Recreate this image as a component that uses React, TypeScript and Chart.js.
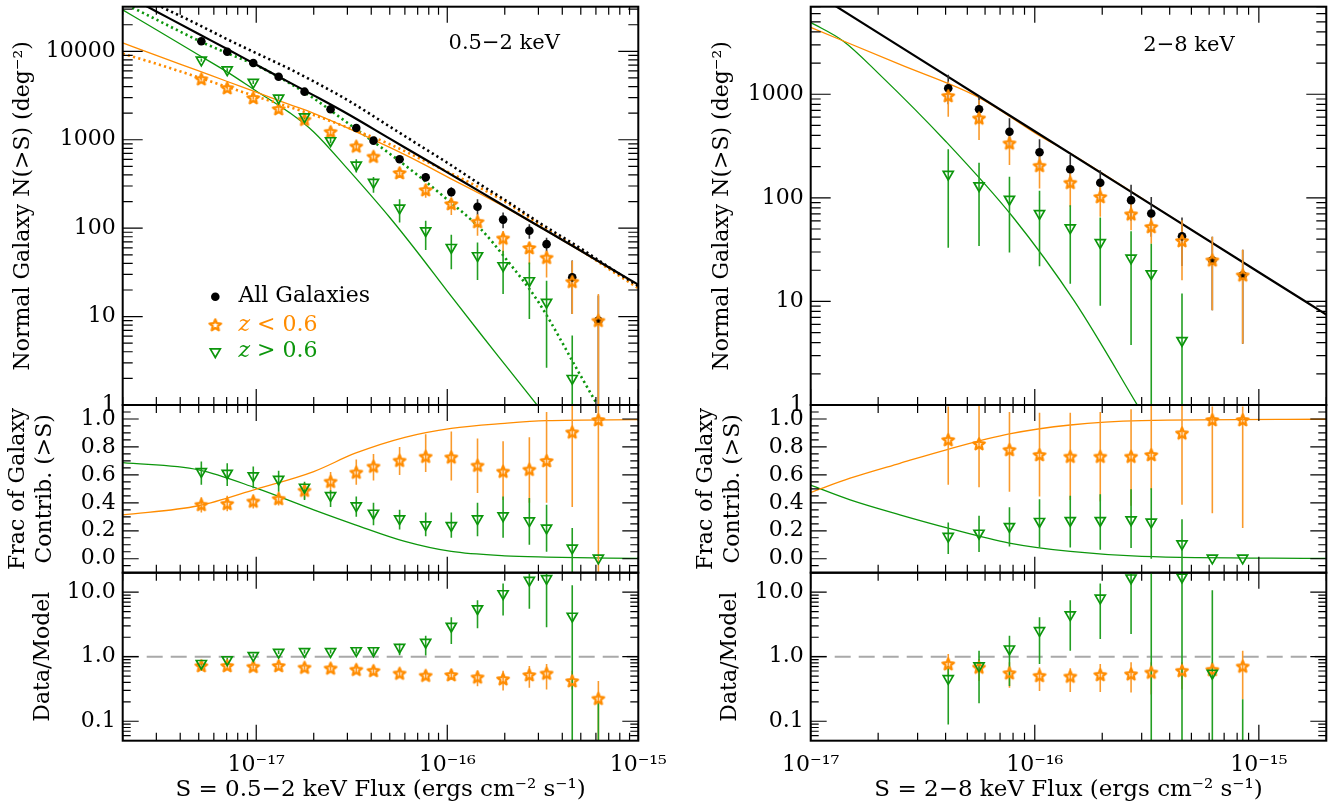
import { useEffect, useRef } from "react";
import { Chart, registerables } from "chart.js";

Chart.register(...registerables);

// ---------- 0.5-2 keV band ----------
const SOFT_RANGE = [2e-18, 1e-15];
const SOFT_X = [5.16e-18, 7.05e-18, 9.65e-18, 1.31e-17, 1.79e-17, 2.45e-17, 3.34e-17, 4.11e-17, 5.63e-17, 7.71e-17, 1.05e-16, 1.44e-16, 1.96e-16, 2.69e-16, 3.31e-16, 4.51e-16, 6.18e-16];

const SOFT_ALL = [13000, 9900, 7380, 5170, 3500, 2210, 1360, 977, 601, 376, 256, 175, 125, 93.6, 66, 27.8, 9.0];
const SOFT_ALL_LO = [12500, 9500, 7050, 4900, 3300, 2070, 1260, 900, 550, 340, 228, 140, 100, 76, 54, 10.7, 0.3];
const SOFT_ALL_HI = [13500, 10300, 7700, 5450, 3700, 2350, 1460, 1060, 655, 420, 290, 212, 150, 111, 78, 43, 17.3];
const SOFT_ZLOW = [4860, 3850, 2970, 2230, 1690, 1230, 843, 645, 421, 270, 188, 118, 76.7, 59.7, 46.4, 24.8, 9.0];
const SOFT_ZLOW_LO = [4650, 3680, 2830, 2110, 1590, 1140, 770, 585, 370, 221, 141, 82, 51, 39, 27.7, 10.7, 0.3];
const SOFT_ZLOW_HI = [5080, 4030, 3120, 2360, 1800, 1330, 920, 710, 480, 314, 221, 144, 93, 69, 55.5, 42.8, 18];
const SOFT_ZHIGH = [7980, 6190, 4460, 2970, 1820, 977, 518, 330, 169, 93.6, 60.6, 48.9, 37.7, 25.5, 14.5, 2.0, null];
const SOFT_ZHIGH_LO = [7650, 5930, 4260, 2830, 1720, 915, 425, 252, 116, 56.5, 34.4, 25.9, 18, 9.4, 2.63, 0.3, null];
const SOFT_ZHIGH_HI = [8320, 6460, 4670, 3120, 1930, 1045, 601, 380, 212, 121, 84, 69, 55.5, 41, 25.4, 6.1, null];

const SOFT_MODEL_X = [2e-18, 3e-18, 5e-18, 7e-18, 1e-17, 1.5e-17, 2e-17, 3e-17, 5e-17, 7e-17, 1e-16, 1.5e-16, 2e-16, 3e-16, 5e-16, 7e-16, 1e-15];
const SOFT_MODEL_ALL = [45200, 28300, 15700, 10700, 7060, 4430, 3180, 1970, 1030, 673, 428, 256, 177, 106, 55.5, 36.1, 23.0];
const SOFT_MODEL_ALL_ALT = [52500, 33900, 19950, 13800, 9550, 6310, 4570, 2820, 1410, 891, 550, 309, 209, 117, 58.9, 36.3, 22.1];
const SOFT_MODEL_ZLOW = [12450, 9020, 6000, 4590, 3450, 2500, 1990, 1365, 819, 573, 381, 242, 173, 105, 55, 35.5, 22.6];
const SOFT_MODEL_ZLOW_ALT = [9440, 7240, 5070, 3980, 3090, 2340, 1905, 1380, 891, 631, 437, 282, 200, 112, 56.2, 34.7, 20.9];
const SOFT_MODEL_ZHIGH = [29500, 17540, 9100, 5900, 3565, 2014, 1227, 471, 132, 53.1, 19.4, 6.31, 2.88, 0.957, 0.24, 0.095, 0.036];
const SOFT_MODEL_ZHIGH_ALT = [35500, 22900, 13200, 9590, 6970, 4340, 2940, 1556, 695, 398, 211, 97.5, 46.7, 14.6, 2.13, 0.6, 0.16];

const SOFT_FRAC_MODEL_X = [2e-18, 5e-18, 1e-17, 2e-17, 3.3e-17, 6e-17, 1.05e-16, 2e-16, 3.3e-16, 1e-15];
const SOFT_FRAC_MODEL_ZLOW = [0.314, 0.379, 0.498, 0.624, 0.755, 0.869, 0.933, 0.969, 0.988, 0.995];
const SOFT_FRAC_MODEL_ZHIGH = [0.688, 0.636, 0.505, 0.35, 0.243, 0.124, 0.052, 0.021, 0.012, 0.002];
const SOFT_FRAC_ZLOW = [0.386, 0.393, 0.41, 0.429, 0.488, 0.552, 0.617, 0.66, 0.702, 0.731, 0.726, 0.667, 0.624, 0.638, 0.7, 0.905, 0.993];
const SOFT_FRAC_ZLOW_LO = [0.33, 0.34, 0.36, 0.38, 0.43, 0.48, 0.53, 0.56, 0.6, 0.62, 0.56, 0.47, 0.42, 0.4, 0.4, 0.37, -0.2];
const SOFT_FRAC_ZLOW_HI = [0.44, 0.45, 0.46, 0.48, 0.54, 0.62, 0.71, 0.75, 0.8, 0.89, 0.91, 0.86, 0.84, 0.87, 1.05, 1.2, 1.2];
const SOFT_FRAC_ZHIGH = [0.624, 0.612, 0.593, 0.569, 0.512, 0.452, 0.379, 0.326, 0.286, 0.243, 0.238, 0.286, 0.307, 0.271, 0.219, 0.076, 0.005];
const SOFT_FRAC_ZHIGH_LO = [0.53, 0.52, 0.505, 0.48, 0.42, 0.37, 0.3, 0.24, 0.21, 0.16, 0.15, 0.16, 0.15, 0.1, 0.05, -0.15, null];
const SOFT_FRAC_ZHIGH_HI = [0.695, 0.683, 0.66, 0.63, 0.55, 0.49, 0.445, 0.4, 0.35, 0.33, 0.33, 0.4, 0.445, 0.435, 0.386, 0.22, null];

const SOFT_RATIO_ZLOW = [0.72, 0.72, 0.7, 0.72, 0.68, 0.66, 0.63, 0.605, 0.55, 0.51, 0.52, 0.48, 0.45, 0.52, 0.55, 0.42, 0.224];
const SOFT_RATIO_ZLOW_LO = [0.67, 0.67, 0.65, 0.67, 0.63, 0.61, 0.58, 0.55, 0.49, 0.45, 0.44, 0.35, 0.3, 0.33, 0.31, 0.31, 0.03];
const SOFT_RATIO_ZLOW_HI = [0.77, 0.77, 0.75, 0.77, 0.73, 0.71, 0.68, 0.66, 0.61, 0.58, 0.6, 0.61, 0.605, 0.72, 0.77, 0.605, 0.42];
const SOFT_RATIO_ZHIGH = [0.787, 0.9, 1.04, 1.17, 1.2, 1.2, 1.24, 1.24, 1.4, 1.67, 2.97, 5.54, 9.48, 15.3, 16.2, 4.25, null];
const SOFT_RATIO_ZHIGH_LO = [0.74, 0.85, 0.98, 1.1, 1.12, 1.12, 1.12, 1.08, 1.05, 1.04, 1.57, 2.77, 4.35, 5.53, 2.87, 0.01, 0.01];
const SOFT_RATIO_ZHIGH_HI = [0.84, 0.96, 1.11, 1.25, 1.28, 1.28, 1.35, 1.38, 1.58, 2.12, 4.1, 7.46, 13.6, 30, 30, 12.8, 0.206];

// ---------- 2-8 keV band ----------
const HARD_RANGE = [1e-17, 2e-15];
const HARD_X = [4.11e-17, 5.64e-17, 7.71e-17, 1.05e-16, 1.44e-16, 1.96e-16, 2.69e-16, 3.31e-16, 4.54e-16, 6.2e-16, 8.47e-16];

const HARD_ALL = [1143, 716, 435, 275, 189, 140, 95, 70.5, 42.5, 25, 17.9];
const HARD_ALL_LO = [800, 520, 300, 190, 125, 95, 60, 42, 22, 8.2, 3.9];
const HARD_ALL_HI = [1540, 949, 587, 367, 259, 185, 134, 102, 64.6, 42, 31.6];
const HARD_ZLOW = [963, 586, 336, 204, 140, 102, 69.5, 52.4, 38.4, 25, 17.9];
const HARD_ZLOW_LO = [608, 362, 207, 123, 82, 65.5, 48.6, 36, 16, 8.2, 3.9];
const HARD_ZLOW_HI = [1327, 881, 469, 289, 200, 148, 98.6, 76, 60.8, 42, 31.6];
const HARD_ZHIGH = [169, 131, 97, 70.5, 51.3, 37, 26.2, 18.5, 4.2, null, null];
const HARD_ZHIGH_LO = [33, 34.3, 29.6, 21.8, 14.8, 9.1, 3.8, 0.3, 0.3, null, null];
const HARD_ZHIGH_HI = [294, 218, 160, 117, 85, 64.6, 47.5, 36, 11.9, null, null];

const HARD_MODEL_ALL_X = [1e-17, 1e-16, 1e-15, 2e-15];
const HARD_MODEL_ALL = [10050, 439, 19.1, 7.46];
const HARD_MODEL_ZLOW_X = [1e-17, 2.5e-17, 5.64e-17, 1.05e-16, 1.44e-16, 3.16e-16, 1e-15, 2e-15];
const HARD_MODEL_ZLOW = [4416, 1941, 929, 398, 269, 92.3, 19.1, 7.46];
const HARD_MODEL_ZHIGH_X = [1e-17, 1.4e-17, 2e-17, 4e-17, 8e-17, 1.5e-16, 3e-16, 5e-16];
const HARD_MODEL_ZHIGH = [4943, 3251, 1600, 352, 64.9, 10.1, 0.85, 0.135];

const HARD_FRAC_MODEL_X = [1e-17, 1.5e-17, 2.5e-17, 4.1e-17, 7.7e-17, 1.44e-16, 3e-16, 2e-15];
const HARD_FRAC_MODEL_ZLOW = [0.474, 0.576, 0.683, 0.783, 0.893, 0.957, 0.988, 0.998];
const HARD_FRAC_MODEL_ZHIGH = [0.526, 0.421, 0.314, 0.219, 0.112, 0.052, 0.017, 0.002];
const HARD_FRAC_ZLOW = [0.85, 0.821, 0.779, 0.743, 0.731, 0.731, 0.731, 0.743, 0.898, 0.993, 0.993];
const HARD_FRAC_ZLOW_LO = [0.529, 0.512, 0.48, 0.445, 0.421, 0.41, 0.379, 0.493, 0.386, 0.326, 0.219];
const HARD_FRAC_ZLOW_HI = [1.09, 1.1, 1.05, 1.045, 1.045, 1.05, 1.07, 1.2, 1.2, 1.09, 1.09];
const HARD_FRAC_ZHIGH = [0.16, 0.183, 0.231, 0.267, 0.274, 0.274, 0.279, 0.262, 0.107, 0.005, 0.005];
const HARD_FRAC_ZHIGH_LO = [0.033, 0.048, 0.088, 0.081, 0.081, 0.064, 0.076, 0.0, -0.15, null, null];
const HARD_FRAC_ZHIGH_HI = [0.26, 0.307, 0.369, 0.426, 0.45, 0.462, 0.498, 0.505, 0.283, null, null];

const HARD_RATIO_ZLOW = [0.769, 0.682, 0.556, 0.506, 0.494, 0.524, 0.537, 0.57, 0.605, 0.627, 0.707];
const HARD_RATIO_ZLOW_LO = [0.506, 0.42, 0.33, 0.295, 0.285, 0.285, 0.28, 0.26, 0.31, 0.45, 0.22];
const HARD_RATIO_ZLOW_HI = [1.1, 0.92, 0.82, 0.68, 0.66, 0.77, 0.82, 0.82, 0.82, 0.82, 1.24];
const HARD_RATIO_ZHIGH = [0.459, 0.724, 1.32, 2.54, 4.46, 8.11, 16.6, null, 17.2, 0.556, null];
const HARD_RATIO_ZHIGH_LO = [0.089, 0.19, 0.353, 0.77, 1.24, 1.88, 2.25, 0.01, 0.01, 0.01, 0.01];
const HARD_RATIO_ZHIGH_HI = [0.72, 1.24, 2.12, 4.1, 7.46, 13.6, 30, 30, 30, 10.7, 0.219];

const RATIO_ONE = [1, 1];

// ---------- ticks ----------
const X_MAJOR = [1e-17, 1e-16, 1e-15];
const X_LABELS = ["10⁻¹⁷", "10⁻¹⁶", "10⁻¹⁵"];
const mults = (decades: number[]) => decades.flatMap((d) => [2, 3, 4, 5, 6, 7, 8, 9].map((k) => k * d));
const SOFT_X_MINOR = mults([1e-18, 1e-17, 1e-16]);
const HARD_X_MINOR = [...mults([1e-17, 1e-16]), 2e-15];

const SOFT_N_MAJOR = [1, 10, 100, 1000, 10000];
const SOFT_N_LABELS = ["1", "10", "100", "1000", "10000"];
const SOFT_N_MINOR = [...mults([1, 10, 100, 1000]), 20000, 30000];
const HARD_N_MAJOR = [1, 10, 100, 1000];
const HARD_N_LABELS = ["1", "10", "100", "1000"];
const HARD_N_MINOR = [...mults([1, 10, 100]), 2000, 3000, 4000, 5000, 6000, 7000];

const FRAC_MAJOR = [0, 0.2, 0.4, 0.6, 0.8, 1.0];
const FRAC_LABELS = ["0.0", "0.2", "0.4", "0.6", "0.8", "1.0"];
const FRAC_MINOR = [-0.1, -0.05, 0.05, 0.1, 0.15, 0.25, 0.3, 0.35, 0.45, 0.5, 0.55, 0.65, 0.7, 0.75, 0.85, 0.9, 0.95, 1.05, 1.1];

const RATIO_MAJOR = [0.1, 1, 10];
const RATIO_LABELS = ["0.1", "1.0", "10.0"];
const RATIO_MINOR = [0.05, 0.06, 0.07, 0.08, 0.09, ...mults([0.1, 1]), 20];

// ---------- style ----------
const FONT = "'DejaVu Serif', serif";
const ORANGE = "#ff8c00";
const ORANGE_BAR = "#f99a2c";
const GREEN = "#0c960c";
const GREEN_BAR = "#239f23";

let starImg: HTMLCanvasElement | null = null;
function getStar() {
  if (starImg) return starImg;
  const c = document.createElement("canvas");
  c.width = 16;
  c.height = 16;
  const g = c.getContext("2d")!;
  g.beginPath();
  for (let i = 0; i < 10; i++) {
    const r = i % 2 === 0 ? 6.0 : 2.7;
    const a = -Math.PI / 2 + (i * Math.PI) / 5;
    const px = 8 + r * Math.cos(a);
    const py = 8.4 + r * Math.sin(a);
    if (i === 0) g.moveTo(px, py);
    else g.lineTo(px, py);
  }
  g.closePath();
  g.lineJoin = "round";
  g.lineWidth = 2.3;
  g.strokeStyle = ORANGE;
  g.stroke();
  starImg = c;
  return c;
}

const xy = (xs: number[], ys: (number | null)[]) => xs.map((x, i) => ({ x, y: ys[i] }));
const bars = (xs: number[], lo: (number | null)[], hi: (number | null)[]) =>
  xs.flatMap((x, i) => (lo[i] == null ? [] : [{ x, y: lo[i] }, { x, y: hi[i] }, { x, y: null }]));

const curve = (xs: number[], ys: number[], color: string, width: number, dotted = false) => ({
  data: xy(xs, ys),
  borderColor: color,
  borderWidth: width,
  borderDash: dotted ? [2.2, 3.2] : [],
  cubicInterpolationMode: "monotone",
  pointRadius: 0,
  fill: false,
  order: 30,
});
const errs = (xs: number[], lo: any[], hi: any[], color: string, order: number) => ({
  data: bars(xs, lo, hi),
  borderColor: color,
  borderWidth: 1.6,
  pointRadius: 0,
  spanGaps: false,
  order,
});
const dots = (xs: number[], ys: any[]) => ({
  data: xy(xs, ys),
  showLine: false,
  pointStyle: "circle",
  pointRadius: 4.3,
  pointBackgroundColor: "#000",
  pointBorderWidth: 0,
  order: 12,
});
const stars = (xs: number[], ys: any[]) => ({
  data: xy(xs, ys),
  showLine: false,
  pointStyle: getStar(),
  pointRadius: 6,
  order: 11,
});
const tris = (xs: number[], ys: any[]) => ({
  data: xy(xs, ys),
  showLine: false,
  pointStyle: "triangle",
  pointRotation: 180,
  pointRadius: 5.8,
  pointBackgroundColor: "rgba(0,0,0,0)",
  pointBorderColor: GREEN,
  pointBorderWidth: 1.7,
  order: 10,
});
const refLine = (range: number[]) => ({
  data: xy(range, RATIO_ONE),
  borderColor: "#a9a9a9",
  borderWidth: 2,
  borderDash: [16, 8],
  pointRadius: 0,
  order: 40,
});

interface PanelSpec {
  key: string;
  left: number;
  top: number;
  w: number;
  h: number;
  pad: { top: number; right: number; bottom: number };
  yAxisW: number;
  xAxisH?: number;
  xRange: number[];
  xMinor: number[];
  xTitle?: string;
  yType: "logarithmic" | "linear";
  yMin: number;
  yMax: number;
  yMajor: number[];
  yLabels: string[];
  yMinor: number[];
  yLen: number;
  yTitle: string | string[];
  yTitlePad: number;
  yTitleLH?: number;
  texts?: any[];
  datasets: () => any[];
}

// inward tick marks on all four sides, drawn as short line segments through the panel's scales
function frameTicks(s: PanelSpec) {
  const [x0, x1] = s.xRange;
  const plotW = s.w - s.yAxisW - s.pad.right;
  const plotH = s.h - s.pad.top - s.pad.bottom - (s.xAxisH || 0);
  const ylog = s.yType === "logarithmic";
  const xPerPx = Math.log10(x1 / x0) / plotW;
  const yPerPx = ylog ? Math.log10(s.yMax / s.yMin) / plotH : (s.yMax - s.yMin) / plotH;
  const yStep = (y: number, px: number) => (ylog ? y * Math.pow(10, px * yPerPx) : y + px * yPerPx);
  const xStep = (x: number, px: number) => x * Math.pow(10, px * xPerPx);
  const pts: any[] = [];
  const seg = (ax: number, ay: number, bx: number, by: number) => {
    pts.push({ x: ax, y: ay }, { x: bx, y: by }, { x: ax, y: null });
  };
  const xTicks = (vals: number[], len: number) =>
    vals.forEach((v) => {
      seg(v, s.yMin, v, yStep(s.yMin, len));
      seg(v, s.yMax, v, yStep(s.yMax, -len));
    });
  const yTicks = (vals: number[], len: number) =>
    vals.forEach((v) => {
      seg(x0, v, xStep(x0, len), v);
      seg(x1, v, xStep(x1, -len), v);
    });
  xTicks(X_MAJOR, 16);
  xTicks(s.xMinor, 8);
  yTicks(s.yMajor, s.yLen);
  yTicks(s.yMinor, s.yLen / 2);
  return {
    data: pts,
    borderColor: "#000",
    borderWidth: 1.2,
    pointRadius: 0,
    spanGaps: false,
    order: 0,
  };
}

// frame around the plot area
const framePlugin = {
  id: "frameBox",
  afterDraw(chart: any) {
    const ctx = chart.ctx;
    const a = chart.chartArea;
    ctx.save();
    ctx.strokeStyle = "#000";
    ctx.lineWidth = 2;
    ctx.strokeRect(a.left, a.top, a.right - a.left, a.bottom - a.top);
    ctx.restore();
  },
};

// in-panel labels and legend
function textPlugin(s: PanelSpec) {
  return {
    id: "panelText",
    afterDraw(chart: any) {
      const { ctx, chartArea: a } = chart;
      ctx.save();
      (s.texts || []).forEach((it: any) => {
        const x = a.left + it.dx;
        const y = a.top + it.dy;
        if (it.kind === "dot") {
          ctx.fillStyle = "#000";
          ctx.beginPath();
          ctx.arc(x, y, 4.3, 0, Math.PI * 2);
          ctx.fill();
        } else if (it.kind === "star") {
          const img = getStar();
          ctx.drawImage(img, x - img.width / 2, y - img.height / 2);
        } else if (it.kind === "tri") {
          const r = 5.8;
          ctx.strokeStyle = GREEN;
          ctx.lineWidth = 1.7;
          ctx.beginPath();
          ctx.moveTo(x, y + r);
          ctx.lineTo(x - r * 0.866, y - r / 2);
          ctx.lineTo(x + r * 0.866, y - r / 2);
          ctx.closePath();
          ctx.stroke();
        } else {
          const size = it.size || 21;
          ctx.fillStyle = it.color || "#000";
          ctx.textBaseline = "middle";
          ctx.textAlign = it.align || "left";
          let cx = x;
          if (it.italic) {
            ctx.font = `italic ${size}px ${FONT}`;
            ctx.fillText(it.italic, cx, y);
            cx += ctx.measureText(it.italic).width;
          }
          ctx.font = `${size}px ${FONT}`;
          ctx.fillText(it.text, cx, y);
        }
      });
      ctx.restore();
    },
  };
}

function buildConfig(s: PanelSpec): any {
  const tickFont = { family: FONT, size: 22 };
  const [x0, x1] = s.xRange;
  return {
    type: "line",
    data: { datasets: [...s.datasets(), frameTicks(s)] },
    plugins: [framePlugin, textPlugin(s)],
    options: {
      animation: false,
      responsive: false,
      layout: { autoPadding: false, padding: { left: 0, top: s.pad.top, right: s.pad.right, bottom: s.pad.bottom } },
      plugins: { legend: { display: false }, tooltip: { enabled: false } },
      scales: {
        x: {
          type: "logarithmic",
          position: "bottom",
          min: x0,
          max: x1,
          display: !!s.xTitle,
          afterBuildTicks: (sc: any) => {
            sc.ticks = X_MAJOR.map((v) => ({ value: v }));
          },
          afterFit: (sc: any) => {
            sc.height = s.xAxisH || 0;
            sc.paddingLeft = 0;
            sc.paddingRight = 0;
          },
          grid: { display: false, drawTicks: false },
          border: { display: false },
          ticks: {
            autoSkip: false,
            maxRotation: 0,
            minRotation: 0,
            padding: 11,
            color: "#000",
            font: tickFont,
            callback: (_v: any, i: number) => X_LABELS[i],
          },
          title: {
            display: !!s.xTitle,
            text: s.xTitle,
            color: "#000",
            font: { family: FONT, size: 23 },
            padding: { top: 0, bottom: 4 },
          },
        },
        y: {
          type: s.yType,
          position: "left",
          min: s.yMin,
          max: s.yMax,
          afterBuildTicks: (sc: any) => {
            sc.ticks = s.yMajor.map((v) => ({ value: v }));
          },
          afterFit: (sc: any) => {
            sc.width = s.yAxisW;
            sc.paddingTop = 0;
            sc.paddingBottom = 0;
          },
          grid: { display: false, drawTicks: false },
          border: { display: false },
          ticks: {
            autoSkip: false,
            padding: 7,
            color: "#000",
            font: tickFont,
            callback: (_v: any, i: number) => s.yLabels[i],
          },
          title: {
            display: true,
            text: s.yTitle,
            color: "#000",
            font: { family: FONT, size: 22, lineHeight: s.yTitleLH || 1.2 },
            padding: { top: s.yTitlePad, bottom: 0 },
          },
        },
      },
    },
  };
}

const N_TITLE = "Normal Galaxy N(>S) (deg⁻²)";
const FRAC_TITLE = ["Frac of Galaxy", "Contrib. (>S)"];
const RATIO_TITLE = "Data/Model";

const LEFT = { left: 0, w: 680, yAxisW: 122.7, right: 41.7 };
const RIGHT = { left: 680, w: 662, yAxisW: 130.7, right: 15.7 };

const PANELS: PanelSpec[] = [
  {
    key: "soft-n",
    left: LEFT.left, top: 0, w: LEFT.w, h: 420,
    pad: { top: 6.7, right: LEFT.right, bottom: 15 },
    yAxisW: LEFT.yAxisW,
    xRange: SOFT_RANGE, xMinor: SOFT_X_MINOR,
    yType: "logarithmic", yMin: 1, yMax: 32000,
    yMajor: SOFT_N_MAJOR, yLabels: SOFT_N_LABELS, yMinor: SOFT_N_MINOR, yLen: 20,
    yTitle: N_TITLE, yTitlePad: 9.8,
    texts: [
      { kind: "text", text: "0.5−2 keV", dx: 381.5, dy: 37, align: "center", size: 21 },
      { kind: "dot", dx: 92.6, dy: 290 },
      { kind: "text", text: "All Galaxies", dx: 115.7, dy: 290, size: 22 },
      { kind: "star", dx: 92.6, dy: 318.3 },
      { kind: "text", italic: "z", text: " < 0.6", dx: 115.7, dy: 318.3, size: 22, color: ORANGE },
      { kind: "tri", dx: 92.6, dy: 345 },
      { kind: "text", italic: "z", text: " > 0.6", dx: 115.7, dy: 345, size: 22, color: GREEN },
    ],
    datasets: () => [
      curve(SOFT_MODEL_X, SOFT_MODEL_ALL, "#000", 2.2),
      curve(SOFT_MODEL_X, SOFT_MODEL_ALL_ALT, "#000", 2.6, true),
      curve(SOFT_MODEL_X, SOFT_MODEL_ZLOW, ORANGE, 1.3),
      curve(SOFT_MODEL_X, SOFT_MODEL_ZLOW_ALT, ORANGE, 2.6, true),
      curve(SOFT_MODEL_X, SOFT_MODEL_ZHIGH, GREEN, 1.3),
      curve(SOFT_MODEL_X, SOFT_MODEL_ZHIGH_ALT, GREEN, 2.6, true),
      errs(SOFT_X, SOFT_ALL_LO, SOFT_ALL_HI, "#333", 22),
      errs(SOFT_X, SOFT_ZLOW_LO, SOFT_ZLOW_HI, ORANGE_BAR, 21),
      errs(SOFT_X, SOFT_ZHIGH_LO, SOFT_ZHIGH_HI, GREEN_BAR, 20),
      dots(SOFT_X, SOFT_ALL),
      stars(SOFT_X, SOFT_ZLOW),
      tris(SOFT_X, SOFT_ZHIGH),
    ],
  },
  {
    key: "soft-frac",
    left: LEFT.left, top: 395, w: LEFT.w, h: 190,
    pad: { top: 10, right: LEFT.right, bottom: 12.3 },
    yAxisW: LEFT.yAxisW,
    xRange: SOFT_RANGE, xMinor: SOFT_X_MINOR,
    yType: "linear", yMin: -0.1, yMax: 1.1,
    yMajor: FRAC_MAJOR, yLabels: FRAC_LABELS, yMinor: FRAC_MINOR, yLen: 16,
    yTitle: FRAC_TITLE, yTitlePad: 4.5, yTitleLH: 1.23,
    datasets: () => [
      curve(SOFT_FRAC_MODEL_X, SOFT_FRAC_MODEL_ZLOW, ORANGE, 1.3),
      curve(SOFT_FRAC_MODEL_X, SOFT_FRAC_MODEL_ZHIGH, GREEN, 1.3),
      errs(SOFT_X, SOFT_FRAC_ZLOW_LO, SOFT_FRAC_ZLOW_HI, ORANGE_BAR, 21),
      errs(SOFT_X, SOFT_FRAC_ZHIGH_LO, SOFT_FRAC_ZHIGH_HI, GREEN_BAR, 20),
      stars(SOFT_X, SOFT_FRAC_ZLOW),
      tris(SOFT_X, SOFT_FRAC_ZHIGH),
    ],
  },
  {
    key: "soft-ratio",
    left: LEFT.left, top: 562, w: LEFT.w, h: 246,
    pad: { top: 10.7, right: LEFT.right, bottom: 0 },
    yAxisW: LEFT.yAxisW, xAxisH: 67.3,
    xRange: SOFT_RANGE, xMinor: SOFT_X_MINOR,
    xTitle: "S = 0.5−2 keV Flux (ergs cm⁻² s⁻¹)",
    yType: "logarithmic", yMin: 0.05, yMax: 20,
    yMajor: RATIO_MAJOR, yLabels: RATIO_LABELS, yMinor: RATIO_MINOR, yLen: 16,
    yTitle: RATIO_TITLE, yTitlePad: 29.8,
    datasets: () => [
      refLine(SOFT_RANGE),
      errs(SOFT_X, SOFT_RATIO_ZLOW_LO, SOFT_RATIO_ZLOW_HI, ORANGE_BAR, 21),
      errs(SOFT_X, SOFT_RATIO_ZHIGH_LO, SOFT_RATIO_ZHIGH_HI, GREEN_BAR, 20),
      stars(SOFT_X, SOFT_RATIO_ZLOW),
      tris(SOFT_X, SOFT_RATIO_ZHIGH),
    ],
  },
  {
    key: "hard-n",
    left: RIGHT.left, top: 0, w: RIGHT.w, h: 420,
    pad: { top: 6.7, right: RIGHT.right, bottom: 15 },
    yAxisW: RIGHT.yAxisW,
    xRange: HARD_RANGE, xMinor: HARD_X_MINOR,
    yType: "logarithmic", yMin: 1, yMax: 7000,
    yMajor: HARD_N_MAJOR, yLabels: HARD_N_LABELS, yMinor: HARD_N_MINOR, yLen: 20,
    yTitle: N_TITLE, yTitlePad: 28.8,
    texts: [{ kind: "text", text: "2−8 keV", dx: 378.3, dy: 39, align: "center", size: 21 }],
    datasets: () => [
      curve(HARD_MODEL_ALL_X, HARD_MODEL_ALL, "#000", 2.2),
      curve(HARD_MODEL_ZLOW_X, HARD_MODEL_ZLOW, ORANGE, 1.3),
      curve(HARD_MODEL_ZHIGH_X, HARD_MODEL_ZHIGH, GREEN, 1.3),
      errs(HARD_X, HARD_ALL_LO, HARD_ALL_HI, "#333", 22),
      errs(HARD_X, HARD_ZLOW_LO, HARD_ZLOW_HI, ORANGE_BAR, 21),
      errs(HARD_X, HARD_ZHIGH_LO, HARD_ZHIGH_HI, GREEN_BAR, 20),
      dots(HARD_X, HARD_ALL),
      stars(HARD_X, HARD_ZLOW),
      tris(HARD_X, HARD_ZHIGH),
    ],
  },
  {
    key: "hard-frac",
    left: RIGHT.left, top: 395, w: RIGHT.w, h: 190,
    pad: { top: 10, right: RIGHT.right, bottom: 12.3 },
    yAxisW: RIGHT.yAxisW,
    xRange: HARD_RANGE, xMinor: HARD_X_MINOR,
    yType: "linear", yMin: -0.1, yMax: 1.1,
    yMajor: FRAC_MAJOR, yLabels: FRAC_LABELS, yMinor: FRAC_MINOR, yLen: 16,
    yTitle: FRAC_TITLE, yTitlePad: 12.5, yTitleLH: 1.23,
    datasets: () => [
      curve(HARD_FRAC_MODEL_X, HARD_FRAC_MODEL_ZLOW, ORANGE, 1.3),
      curve(HARD_FRAC_MODEL_X, HARD_FRAC_MODEL_ZHIGH, GREEN, 1.3),
      errs(HARD_X, HARD_FRAC_ZLOW_LO, HARD_FRAC_ZLOW_HI, ORANGE_BAR, 21),
      errs(HARD_X, HARD_FRAC_ZHIGH_LO, HARD_FRAC_ZHIGH_HI, GREEN_BAR, 20),
      stars(HARD_X, HARD_FRAC_ZLOW),
      tris(HARD_X, HARD_FRAC_ZHIGH),
    ],
  },
  {
    key: "hard-ratio",
    left: RIGHT.left, top: 562, w: RIGHT.w, h: 246,
    pad: { top: 10.7, right: RIGHT.right, bottom: 0 },
    yAxisW: RIGHT.yAxisW, xAxisH: 67.3,
    xRange: HARD_RANGE, xMinor: HARD_X_MINOR,
    xTitle: "S = 2−8 keV Flux (ergs cm⁻² s⁻¹)",
    yType: "logarithmic", yMin: 0.05, yMax: 20,
    yMajor: RATIO_MAJOR, yLabels: RATIO_LABELS, yMinor: RATIO_MINOR, yLen: 16,
    yTitle: RATIO_TITLE, yTitlePad: 36.8,
    datasets: () => [
      refLine(HARD_RANGE),
      errs(HARD_X, HARD_RATIO_ZLOW_LO, HARD_RATIO_ZLOW_HI, ORANGE_BAR, 21),
      errs(HARD_X, HARD_RATIO_ZHIGH_LO, HARD_RATIO_ZHIGH_HI, GREEN_BAR, 20),
      stars(HARD_X, HARD_RATIO_ZLOW),
      tris(HARD_X, HARD_RATIO_ZHIGH),
    ],
  },
];

function Panel({ spec }: { spec: PanelSpec }) {
  const canvasRef = useRef<HTMLCanvasElement>(null);

  useEffect(() => {
    if (!canvasRef.current) return;
    const chart = new Chart(canvasRef.current, buildConfig(spec));
    return () => chart.destroy();
  }, [spec]);

  return (
    <canvas
      ref={canvasRef}
      width={spec.w}
      height={spec.h}
      style={{ position: "absolute", left: spec.left, top: spec.top, width: spec.w, height: spec.h }}
    />
  );
}

export default function App() {
  return (
    <div style={{ position: "absolute", left: 0, top: 0, width: 1342, height: 808, background: "#fff" }}>
      {PANELS.map((p) => (
        <Panel key={p.key} spec={p} />
      ))}
    </div>
  );
}
